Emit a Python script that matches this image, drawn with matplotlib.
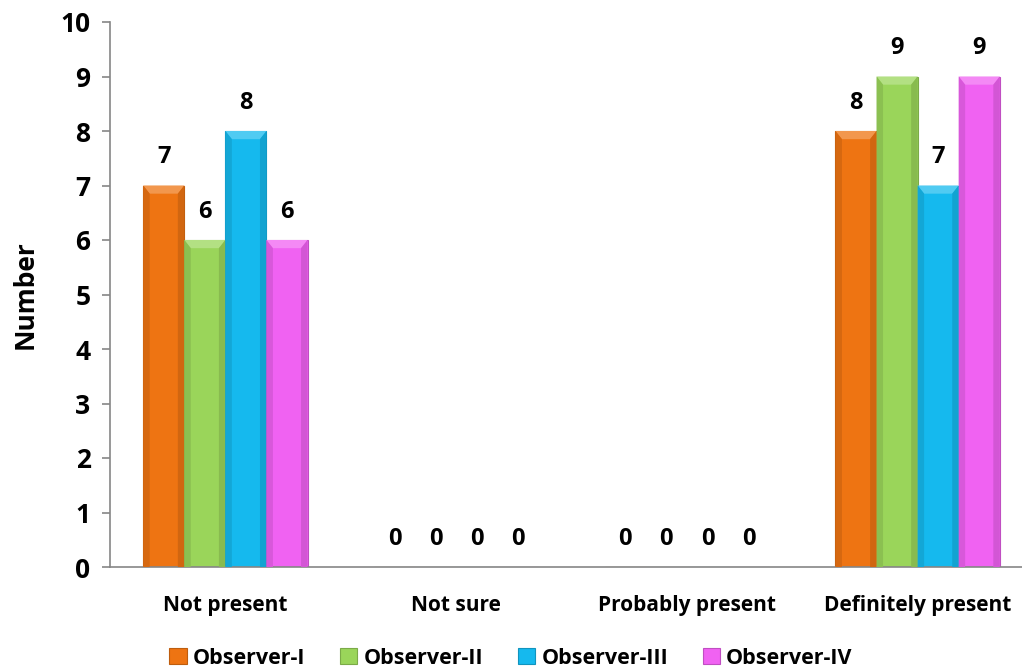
import numpy as np
import matplotlib.pyplot as plt
from matplotlib.patches import Polygon
from matplotlib.colors import to_rgb

# Responses per category for each observer
categories = ["Not present", "Not sure", "Probably present", "Definitely present"]
observers = ["Observer-I", "Observer-II", "Observer-III", "Observer-IV"]
obs1 = [7, 0, 0, 8]
obs2 = [6, 0, 0, 9]
obs3 = [8, 0, 0, 7]
obs4 = [6, 0, 0, 9]
series = [obs1, obs2, obs3, obs4]
colors = ["#EE7412", "#9AD55A", "#15B9EE", "#F062F2"]


def shade(c, f):
    r, g, b = to_rgb(c)
    if f > 1:
        return tuple(v + (1 - v) * (f - 1) for v in (r, g, b))
    return tuple(v * f for v in (r, g, b))


plt.rcParams['font.family'] = ['Open Sans', 'DejaVu Sans']
plt.rcParams['font.weight'] = 'bold'

fig = plt.figure(figsize=(10.22, 6.71), dpi=100)
ax = fig.add_axes([110 / 1022, 104 / 671, 923 / 1022, 545 / 671])

x = np.arange(len(categories))
width = 0.178
bw = 0.028   # bevel width in x units
bh = 0.15    # bevel height in y units

for i, (vals, col) in enumerate(zip(series, colors)):
    pos = x + (i - 1.5) * width
    ax.bar(pos, vals, width, color=col, edgecolor=shade(col, 0.8), linewidth=0.8,
           label=observers[i], zorder=2)
    for xp, v in zip(pos, vals):
        if v > 0:
            l, r = xp - width / 2, xp + width / 2
            # top bevel
            ax.add_patch(Polygon([(l, v), (r, v), (r - bw, v - bh), (l + bw, v - bh)],
                                 closed=True, color=shade(col, 1.25), lw=0, zorder=3))
            # side bevels
            ax.add_patch(Polygon([(l, 0), (l, v), (l + bw, v - bh), (l + bw, 0)],
                                 closed=True, color=shade(col, 0.9), lw=0, zorder=3))
            ax.add_patch(Polygon([(r, 0), (r, v), (r - bw, v - bh), (r - bw, 0)],
                                 closed=True, color=shade(col, 0.88), lw=0, zorder=3))
        ax.text(xp, v + 0.3, str(v), ha='center', va='bottom', fontsize=17,
                fontweight='bold', zorder=4)

ax.set_xlim(-0.5, 3.5)
ax.set_ylim(0, 10)
ax.set_yticks(range(0, 11))
ax.set_xticks(x)
ax.set_xticklabels(categories, fontsize=15, fontweight='bold')
ax.tick_params(axis='x', length=0, pad=20)
ax.tick_params(axis='y', labelsize=19, length=6, width=1.2, color='#868686', pad=8)
for lab in ax.get_yticklabels():
    lab.set_fontweight('bold')

for s in ['top', 'right']:
    ax.spines[s].set_visible(False)
for s in ['left', 'bottom']:
    ax.spines[s].set_color('#868686')
    ax.spines[s].set_linewidth(1.2)

ax.set_ylabel("Number", fontsize=19, fontweight='bold', labelpad=16)

leg = fig.legend(loc='center', ncol=4, frameon=False, fontsize=15.5,
                 handlelength=0.8, handleheight=0.8,
                 columnspacing=1.6, handletextpad=0.3)
leg.set_bbox_to_anchor((0.5, 1 - 658 / 671), transform=fig.transFigure)
for t in leg.get_texts():
    t.set_fontweight('bold')

fig.savefig("out.png", dpi=100)
